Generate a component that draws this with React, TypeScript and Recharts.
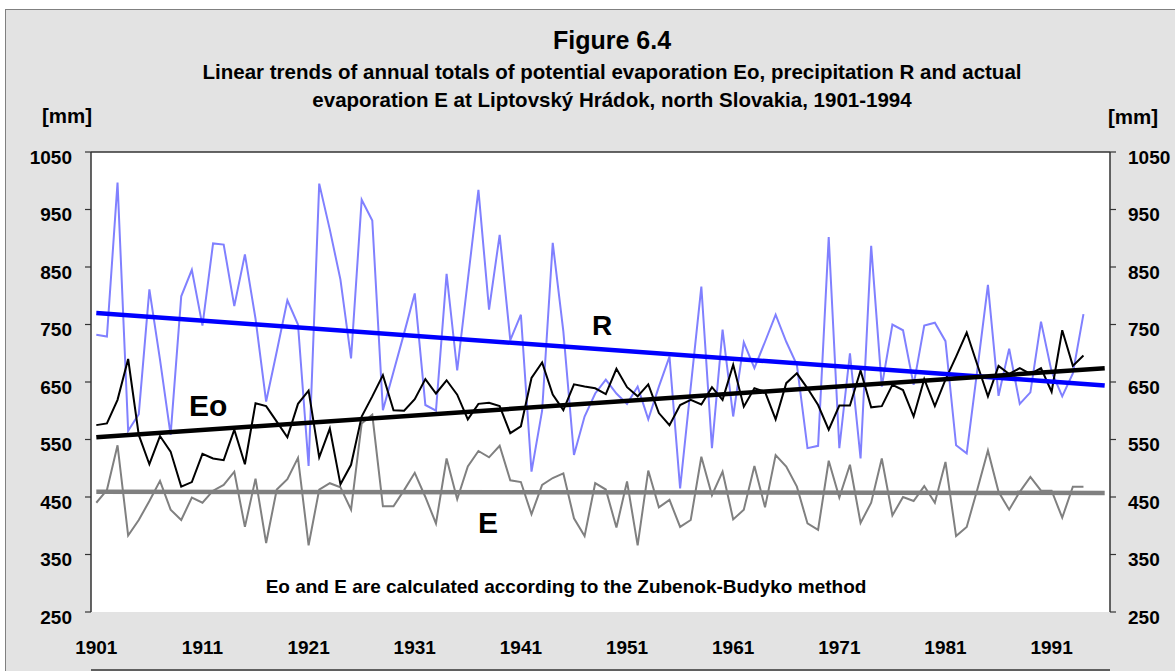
import React from 'react';
import { LineChart, Line, XAxis, YAxis, CartesianGrid, ReferenceLine } from 'recharts';

const firstYear = 1901;
const precipR = [
  732, 729, 997, 565, 594, 811, 689, 558, 799, 845,
  748, 891, 889, 782, 872, 760, 616, 703, 792, 750,
  504, 995, 915, 828, 691, 967, 931, 601, 668, 735,
  804, 610, 600, 838, 670, 827, 984, 776, 906, 723,
  767, 494, 600, 892, 738, 523, 590, 630, 654, 630,
  612, 642, 585, 642, 694, 465, 641, 816, 535, 741,
  590, 719, 674, 720, 767, 720, 680, 535, 539, 902,
  535, 700, 517, 887, 642, 750, 740, 645, 748, 753,
  721, 540, 526, 671, 819, 626, 708, 612, 632, 755,
  668, 625, 665, 768,
];
const potEvapEo = [
  575, 578, 619, 690, 558, 507, 556, 529, 468, 476,
  525, 517, 514, 567, 507, 613, 608, 581, 554, 612,
  635, 519, 569, 472, 506, 590, 625, 662, 601, 600,
  620, 655, 630, 653, 628, 585, 612, 614, 608, 561,
  573, 657, 684, 628, 601, 646, 642, 639, 629, 673,
  641, 625, 646, 596, 575, 610, 619, 611, 641, 619,
  680, 607, 639, 633, 585, 648, 665, 639, 610, 567,
  609, 609, 670, 606, 608, 645, 636, 590, 655, 608,
  654, 694, 736, 680, 625, 678, 664, 674, 664, 674,
  633, 740, 678, 696,
];
const actEvapE = [
  440, 462, 540, 383, 410, 443, 478, 428, 410, 449,
  440, 461, 471, 494, 398, 482, 370, 463, 481, 518,
  366, 463, 474, 467, 428, 578, 593, 434, 434, 462,
  492, 450, 404, 517, 446, 503, 530, 519, 539, 479,
  476, 420, 471, 483, 491, 413, 382, 474, 463, 397,
  477, 366, 496, 432, 445, 398, 410, 520, 453, 494,
  411, 428, 504, 432, 523, 503, 468, 404, 393, 513,
  449, 506, 405, 440, 517, 418, 450, 443, 469, 440,
  511, 382, 398, 463, 531, 459, 428, 459, 485, 461,
  461, 414, 468, 468,
];
// trend line end points
const trendYears = [1901, 1996];
const trendR = [770, 644];
const trendEo = [554, 674];
const trendE = [459, 457];

const yTicks = [250, 350, 450, 550, 650, 750, 850, 950, 1050];
const xLabelTicks = [1901, 1911, 1921, 1931, 1941, 1951, 1961, 1971, 1981, 1991];
const xMarkTicks = Array.from({ length: 20 }, (_, k) => 1900.5 + 5 * k);

const rows = precipR.map((r, i) => ({
  year: firstYear + i,
  R: r,
  Eo: potEvapEo[i],
  E: actEvapE[i],
}));
const mkTrend = (vals: number[]) => trendYears.map((y, i) => ({ year: y, v: vals[i] }));

const FONT = 'Arial, "Liberation Sans", sans-serif';
const tickFont = { fontSize: 19, fontWeight: 'bold', fill: '#000', fontFamily: FONT } as any;

export default function App() {
  return (
    <div style={{ position: 'absolute', left: 0, top: 0, width: 1175, height: 671, background: '#fff', overflow: 'hidden' }}>
      <div style={{ position: 'absolute', left: 5, top: 9, width: 1200, height: 700, background: '#e3e3e3', border: '1.5px solid #808080', boxSizing: 'border-box' }} />
      <div style={{ position: 'absolute', left: 0, top: 0 }}>
        <LineChart width={1175} height={671} data={rows} margin={{ top: 152, right: 0, bottom: 0, left: 0 }}>
          <CartesianGrid xAxisId="marks" yAxisId="left" fill="#ffffff" horizontal={false} vertical={false} />
          <XAxis
            xAxisId="marks"
            type="number"
            dataKey="year"
            domain={[1900.5, 1996.5]}
            ticks={xMarkTicks}
            tick={false}
            tickSize={6}
            height={1}
            axisLine={{ stroke: '#333', strokeWidth: 1.5 }}
            tickLine={{ stroke: '#333', strokeWidth: 1.2 }}
            allowDataOverflow
          />
          <XAxis
            xAxisId="labels"
            type="number"
            dataKey="year"
            domain={[1900.5, 1996.5]}
            ticks={xLabelTicks}
            axisLine={false}
            tickLine={false}
            tickSize={0}
            tickMargin={29}
            height={58}
            tick={tickFont}
            interval={0}
            allowDataOverflow
          />
          <YAxis
            yAxisId="left"
            width={91}
            domain={[250, 1050]}
            ticks={yTicks}
            interval={0}
            tickSize={6}
            tickMargin={13}
            tick={{ ...tickFont, dy: 5 }}
            axisLine={{ stroke: '#333', strokeWidth: 1.5 }}
            tickLine={{ stroke: '#333', strokeWidth: 1.2 }}
            allowDataOverflow
          />
          <YAxis
            yAxisId="right"
            orientation="right"
            width={65}
            domain={[250, 1050]}
            ticks={yTicks}
            interval={0}
            tickSize={6}
            tickMargin={12}
            tick={{ ...tickFont, dy: 5 }}
            axisLine={{ stroke: '#333', strokeWidth: 1.5 }}
            tickLine={{ stroke: '#333', strokeWidth: 1.2 }}
            allowDataOverflow
          />
          <ReferenceLine xAxisId="marks" yAxisId="left" y={1050} stroke="#333" strokeWidth={1.5} />
          <Line xAxisId="marks" yAxisId="left" dataKey="R" stroke="#8080ff" strokeWidth={2} dot={false} isAnimationActive={false} />
          <Line xAxisId="marks" yAxisId="left" dataKey="E" stroke="#808080" strokeWidth={2} dot={false} isAnimationActive={false} />
          <Line xAxisId="marks" yAxisId="left" dataKey="Eo" stroke="#000000" strokeWidth={2} dot={false} isAnimationActive={false} />
          <Line xAxisId="marks" yAxisId="left" data={mkTrend(trendE)} dataKey="v" stroke="#808080" strokeWidth={4.5} dot={false} isAnimationActive={false} />
          <Line xAxisId="marks" yAxisId="left" data={mkTrend(trendR)} dataKey="v" stroke="#0000ff" strokeWidth={4.5} dot={false} isAnimationActive={false} />
          <Line xAxisId="marks" yAxisId="left" data={mkTrend(trendEo)} dataKey="v" stroke="#000000" strokeWidth={4.5} dot={false} isAnimationActive={false} />
        </LineChart>
      </div>
      <svg width={1175} height={671} style={{ position: 'absolute', left: 0, top: 0, pointerEvents: 'none' }}>
        <g fontFamily={FONT} fontWeight="bold" fill="#000">
          <text x={612} y={49} fontSize={25} textAnchor="middle">Figure 6.4</text>
          <text x={612} y={79} fontSize={20.5} textAnchor="middle">Linear trends of annual totals of potential evaporation Eo, precipitation R and actual</text>
          <text x={612} y={107} fontSize={20.5} textAnchor="middle">evaporation E at Liptovský Hrádok, north Slovakia, 1901-1994</text>
          <text x={67} y={123} fontSize={20.5} textAnchor="middle">[mm]</text>
          <text x={1133} y={124} fontSize={20.5} textAnchor="middle">[mm]</text>
          <text x={602} y={335} fontSize={28} textAnchor="middle">R</text>
          <text x={189} y={416} fontSize={30}>Eo</text>
          <text x={478} y={533} fontSize={30}>E</text>
          <text x={566} y={593} fontSize={19} textAnchor="middle">Eo and E are calculated according to the Zubenok-Budyko method</text>
        </g>
      </svg>
    </div>
  );
}
